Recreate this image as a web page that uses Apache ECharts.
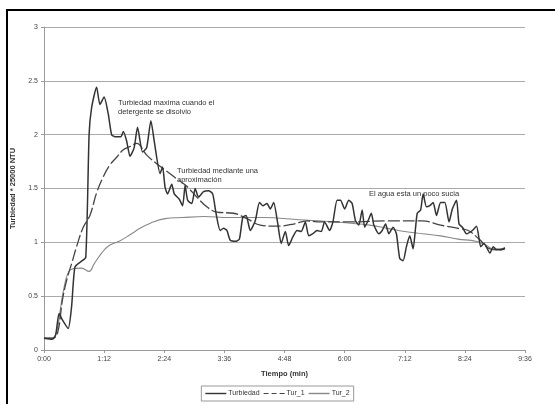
<!DOCTYPE html>
<html>
<head>
<meta charset="utf-8">
<script src="https://cdn.jsdelivr.net/npm/echarts@6/dist/echarts.min.js"></script>
<style>html,body{margin:0;padding:0;background:#fff;}#c{width:555px;height:404px;}</style>
</head>
<body>
<div id="c"></div>
<script>
// Time in seconds
const turbT = [0,10,14,18,22,29,33,37,44,50,54,57,63,67,72,77,81,86,92,95,99,103,108,112,118,123,128,132,139,142,145,148,153,156,162,166,169,172,177,181,185,191,197,202,206,211,215,219,223,230,234,238,242,247,253,258,262,267,271,275,280,284,289,293,298,303,308,313,317,322,327,332,336,342,346,351,355,360,365,369,373,377,381,384,388,392,395,401,405,409,413,418,422,426,430,434,438,442,445,447,451,454,458,462,466,470,475,480,485,489,494,497,501,506,513,518,523,527,534,538,542,546,552];
const turbV = [0.11,0.10,0.14,0.34,0.28,0.20,0.40,0.77,0.82,0.86,2.00,2.25,2.44,2.28,2.35,2.19,2.00,1.98,1.98,2.03,1.94,1.80,1.88,2.07,1.84,1.88,2.13,1.94,1.64,1.70,1.51,1.45,1.54,1.45,1.40,1.34,1.53,1.39,1.36,1.50,1.42,1.47,1.48,1.45,1.27,1.11,1.13,1.11,1.02,1.01,1.03,1.23,1.25,1.11,1.20,1.37,1.34,1.36,1.31,1.37,1.17,0.99,1.10,0.97,1.05,1.11,1.10,1.19,1.06,1.08,1.11,1.10,1.19,1.11,1.19,1.39,1.39,1.31,1.39,1.36,1.20,1.16,1.30,1.14,1.20,1.27,1.16,1.08,1.11,1.17,1.08,1.14,1.08,0.85,0.83,0.96,1.06,0.94,1.14,1.27,1.30,1.45,1.33,1.34,1.37,1.25,1.37,1.37,1.19,1.31,1.39,1.17,1.14,1.08,1.11,1.15,0.96,0.99,0.90,0.96,0.93,0.93,0.95];

const tur1T = [0,10,16,22,25,29,33,39,47,55,63,71,79,87,95,103,111,123,135,147,159,171,183,195,207,227,243,259,279,299,315,327,369,411,453,475,496,508,521,534,546,552];
const tur1V = [0.11,0.11,0.15,0.46,0.58,0.70,0.80,0.96,1.14,1.25,1.46,1.61,1.72,1.79,1.86,1.89,1.92,1.81,1.73,1.66,1.59,1.52,1.42,1.33,1.28,1.27,1.22,1.16,1.15,1.17,1.20,1.19,1.19,1.20,1.20,1.16,1.13,1.11,1.03,0.94,0.93,0.94];

const tur2T = [0,10,16,20,24,28,33,45,54,60,69,78,90,103,115,128,145,166,192,221,263,306,348,390,411,432,453,475,496,517,530,538,552];
const tur2V = [0.11,0.11,0.20,0.40,0.58,0.70,0.75,0.76,0.73,0.80,0.90,0.97,1.01,1.07,1.13,1.18,1.22,1.23,1.24,1.23,1.23,1.21,1.19,1.16,1.13,1.10,1.08,1.06,1.03,1.01,0.97,0.94,0.94];

const seriesNames = ['Turbiedad','Tur_1','Tur_2'];
const xTitle = 'Tiempo (min)';
const yTitle = 'Turbiedad * 25000 NTU';
const notes = [
  ['Turbiedad maxima cuando el','detergente se disolvio'],
  ['Turbiedad mediante una','aproximación'],
  ['El agua esta un poco sucia']
];

const zip = (a,b)=>a.map((t,i)=>[t,b[i]]);
const fmt = v => { const m=Math.floor(v/60), s=Math.round(v%60); return m+':'+(s<10?'0':'')+s; };
const font = 'Liberation Sans, Arial, sans-serif';
const solidIcon = 'rect';
const dashIcon = 'path://M0,0H5V1H0Z M8,0H13V1H8Z M16,0H21V1H16Z';

const chart = echarts.init(document.getElementById('c'), null, {renderer:'canvas'});
chart.setOption({
  backgroundColor:'#fff',
  animation:false,
  grid:{left:44, right:30, top:27, bottom:54, containLabel:false},
  xAxis:{
    type:'value', min:0, max:576, interval:72,
    name:xTitle, nameLocation:'middle', nameGap:20,
    nameTextStyle:{fontFamily:font, fontSize:7.5, fontWeight:'bold', color:'#333'},
    axisLine:{show:true, lineStyle:{color:'#999', width:1}},
    axisTick:{show:true, length:3, lineStyle:{color:'#999'}},
    axisLabel:{formatter:fmt, fontFamily:font, fontSize:7, color:'#444', margin:6},
    splitLine:{show:false}
  },
  yAxis:{
    type:'value', min:0, max:3, interval:0.5,
    name:yTitle, nameLocation:'middle', nameGap:20,
    nameTextStyle:{fontFamily:font, fontSize:7.5, fontWeight:'bold', color:'#333'},
    axisLine:{show:true, lineStyle:{color:'#999', width:1}},
    axisTick:{show:true, length:3, lineStyle:{color:'#999'}},
    axisLabel:{fontFamily:font, fontSize:7, color:'#444', margin:6},
    splitLine:{show:true, lineStyle:{color:'#aaa', width:1}}
  },
  legend:{
    bottom:3, left:'center',
    data:[
      {name:seriesNames[0], icon:solidIcon, itemStyle:{color:'#333'}},
      {name:seriesNames[1], icon:dashIcon, itemStyle:{color:'#444'}},
      {name:seriesNames[2], icon:solidIcon, itemStyle:{color:'#888'}}
    ],
    itemWidth:21, itemHeight:1.4, itemGap:4,
    borderColor:'#999', borderWidth:1, padding:[3,4],
    textStyle:{fontFamily:font, fontSize:7, color:'#333', padding:[0,0,0,-3], lineHeight:9}
  },
  series:[
    {name:seriesNames[0], type:'line', data:zip(turbT,turbV), showSymbol:false, symbol:'none', smooth:0.2,
     lineStyle:{color:'#333', width:1.5}, itemStyle:{color:'#333'}, z:3},
    {name:seriesNames[1], type:'line', data:zip(tur1T,tur1V), showSymbol:false, symbol:'none', smooth:0.4,
     lineStyle:{color:'#444', width:1.3, type:[12,3]}, itemStyle:{color:'#444'}, z:2},
    {name:seriesNames[2], type:'line', data:zip(tur2T,tur2V), showSymbol:false, symbol:'none', smooth:0.4,
     lineStyle:{color:'#888', width:1.1}, itemStyle:{color:'#888'}, z:1}
  ],
  graphic:[
    {type:'rect', shape:{x:7, y:10, width:560, height:410}, style:{fill:'none', stroke:'#000', lineWidth:2}, silent:true},
    {type:'text', x:118, y:98, style:{text:notes[0].join('\n'), font:'7.5px '+font, fill:'#333', lineHeight:9}},
    {type:'text', x:177, y:166, style:{text:notes[1].join('\n'), font:'7.5px '+font, fill:'#333', lineHeight:9}},
    {type:'text', x:369, y:189, style:{text:notes[2].join('\n'), font:'7.5px '+font, fill:'#333', lineHeight:9}}
  ]
});
</script>
</body>
</html>
